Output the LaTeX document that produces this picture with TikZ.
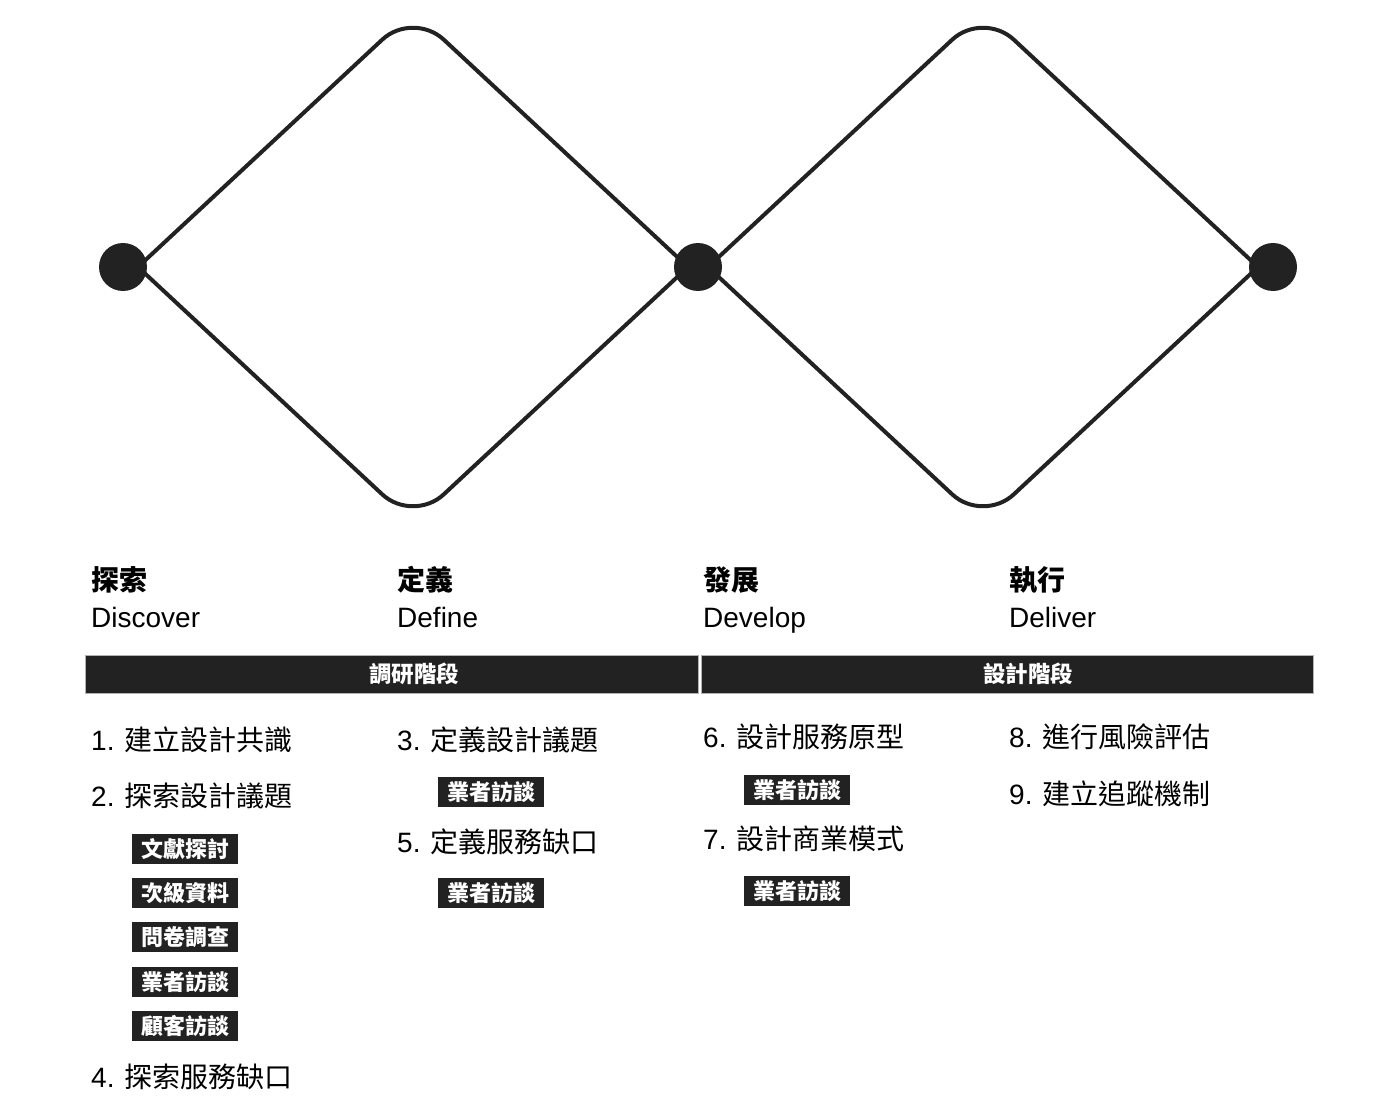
\documentclass[tikz,border=0pt]{standalone}
\usepackage{fontspec}
\setmainfont{Liberation Sans}
\newfontfamily\cjk{Noto Sans CJK TC}
\definecolor{ink}{HTML}{222222}
\tikzset{
  dot/.style={circle,fill=ink,minimum size=48pt,inner sep=0pt},
  diamondline/.style={draw=ink,line width=4pt,rounded corners=42pt},
  phasezh/.style={anchor=west,inner sep=0pt,font=\cjk\bfseries\fontsize{28}{30}\selectfont},
  phaseen/.style={anchor=base west,inner sep=0pt,font=\fontsize{28}{30}\selectfont},
  phasebar/.style={fill=ink,draw=gray!60,line width=0.8pt,minimum height=38pt,inner sep=0pt},
  barlabel/.style={text=white,inner sep=0pt,font=\cjk\bfseries\fontsize{22.5}{24}\selectfont},
  task/.style={anchor=west,inner sep=0pt,font=\fontsize{28}{30}\selectfont},
  tagbox/.style={fill=ink,text=white,minimum width=106pt,minimum height=30pt,inner sep=0pt,
    font=\cjk\bfseries\fontsize{22}{24}\selectfont}
}
\newcommand\tasktext[2]{#1. {\cjk #2}}

\begin{document}
\begin{tikzpicture}[x=1pt,y=-1pt]
  \useasboundingbox (0,0) rectangle (1400,1118);

  % double diamond
  \coordinate (v1) at (138,267);
  \coordinate (v2) at (688,267);
  \coordinate (v3) at (708,267);
  \coordinate (v4) at (1258,267);
  \coordinate (top1) at (413,11);
  \coordinate (bot1) at (413,523);
  \coordinate (top2) at (983,11);
  \coordinate (bot2) at (983,523);
  \draw[diamondline] (v1) -- (top1) -- (v2);
  \draw[diamondline] (v1) -- (bot1) -- (v2);
  \draw[diamondline] (v3) -- (top2) -- (v4);
  \draw[diamondline] (v3) -- (bot2) -- (v4);
  \node[dot] (d1) at (123,267) {};
  \node[dot] (d2) at (698,267) {};
  \node[dot] (d3) at (1273,267) {};

  % phases
  \node[phasezh] (discoverzh) at (91,580) {探索};
  \node[phaseen] (discoveren) at (91,627) {Discover};
  \node[phasezh] (definezh) at (397,580) {定義};
  \node[phaseen] (defineen) at (397,627) {Define};
  \node[phasezh] (developzh) at (703,580) {發展};
  \node[phaseen] (developen) at (703,627) {Develop};
  \node[phasezh] (deliverzh) at (1009,580) {執行};
  \node[phaseen] (deliveren) at (1009,627) {Deliver};

  \node[phasebar,minimum width=613pt] (bar1) at (391.5,674) {};
  \node[phasebar,minimum width=612pt] (bar2) at (1007,674) {};
  \node[barlabel] (bar1label) at (414,674) {調研階段};
  \node[barlabel] (bar2label) at (1028,674) {設計階段};

  % tasks
  \node[task] (t1) at (91,740) {\tasktext{1}{建立設計共識}};
  \node[task] (t2) at (91,796) {\tasktext{2}{探索設計議題}};
  \node[tagbox] (m1) at (185,849) {文獻探討};
  \node[tagbox] (m2) at (185,893) {次級資料};
  \node[tagbox] (m3) at (185,937) {問卷調查};
  \node[tagbox] (m4) at (185,982) {業者訪談};
  \node[tagbox] (m5) at (185,1026) {顧客訪談};
  \node[task] (t4) at (91,1077) {\tasktext{4}{探索服務缺口}};

  \node[task] (t3) at (397,740) {\tasktext{3}{定義設計議題}};
  \node[tagbox] (m6) at (491,792) {業者訪談};
  \node[task] (t5) at (397,842) {\tasktext{5}{定義服務缺口}};
  \node[tagbox] (m7) at (491,893) {業者訪談};

  \node[task] (t6) at (703,737) {\tasktext{6}{設計服務原型}};
  \node[tagbox] (m8) at (797,790) {業者訪談};
  \node[task] (t7) at (703,839) {\tasktext{7}{設計商業模式}};
  \node[tagbox] (m9) at (797,891) {業者訪談};

  \node[task] (t8) at (1009,737) {\tasktext{8}{進行風險評估}};
  \node[task] (t9) at (1009,794) {\tasktext{9}{建立追蹤機制}};
\end{tikzpicture}
\end{document}
